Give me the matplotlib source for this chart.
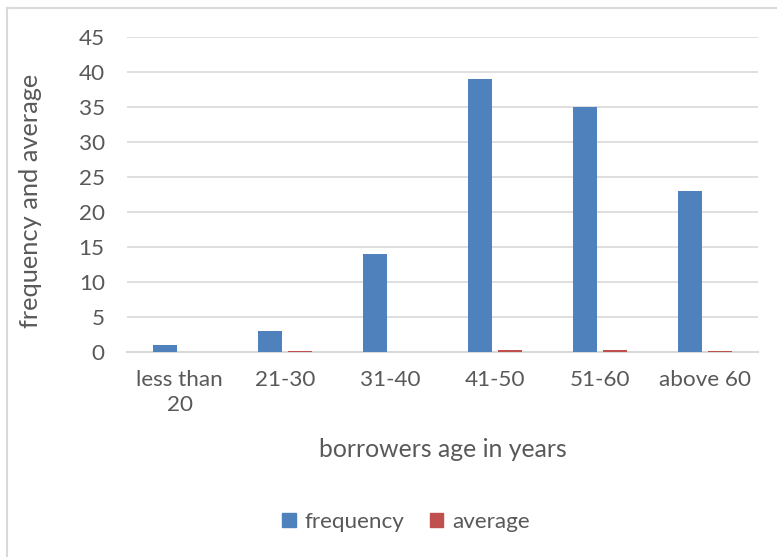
import matplotlib
matplotlib.use("Agg")
import matplotlib.pyplot as plt
import numpy as np
from matplotlib.patches import Rectangle
from matplotlib.lines import Line2D

categories = ["less than\n20", "21-30", "31-40", "41-50", "51-60", "above 60"]
frequency = [1, 3, 14, 39, 35, 23]
average = [0, 0.2, 0, 0.35, 0.3, 0.2]
y_ticks = [0, 5, 10, 15, 20, 25, 30, 35, 40, 45]

BLUE = "#4f81bd"
RED = "#c0504d"
GRID = "#d9d9d9"
TEXT = "#595959"

plt.rcParams["font.family"] = ["Lato", "DejaVu Sans"]

fig = plt.figure(figsize=(7.77, 5.57), dpi=100)
W, H = 777, 557
ax = fig.add_axes([127 / W, (H - 352) / H, (758 - 127) / W, (352 - 37) / H])

x = np.arange(len(categories))
bw = 0.228
off = 0.143
ax.bar(x - off, frequency, width=bw, color=BLUE, zorder=3)
ax.bar(x + off, average, width=bw, color=RED, zorder=3)

ax.set_xlim(-0.5, len(categories) - 0.5)
ax.set_ylim(0, 45)
ax.set_yticks(y_ticks)
ax.yaxis.grid(True, color=GRID, linewidth=1.2, zorder=0)
ax.set_axisbelow(True)
for s in ["top", "right", "left"]:
    ax.spines[s].set_visible(False)
ax.spines["bottom"].set_color(GRID)
ax.spines["bottom"].set_linewidth(1.5)
ax.spines["bottom"].set_zorder(2)

ax.set_xticks(x)
ax.set_xticklabels(categories, linespacing=1.3)
ax.tick_params(axis="both", length=0, colors=TEXT, labelsize=16.2)
ax.tick_params(axis="x", pad=13)
ax.tick_params(axis="y", pad=16)

ax.set_xlabel("borrowers age in years", color=TEXT, fontsize=17.8, labelpad=17)
ax.set_ylabel("frequency and average", color=TEXT, fontsize=18.3)
ax.yaxis.set_label_coords(-0.135, 0.48)

# outer chart frame (only the top and left edges fall inside the image)
fig.add_artist(Line2D([7 / W, 7 / W], [0, 1 - 8 / H], transform=fig.transFigure,
                      color=GRID, linewidth=1.5))
fig.add_artist(Line2D([7 / W, 1], [1 - 8 / H, 1 - 8 / H], transform=fig.transFigure,
                      color=GRID, linewidth=1.5))

handles = [Rectangle((0, 0), 1, 1, color=BLUE), Rectangle((0, 0), 1, 1, color=RED)]
fig.legend(handles, ["frequency", "average"], loc="center",
           bbox_to_anchor=(406 / W, 1 - 522 / H), ncol=2, frameon=False,
           fontsize=16.2, labelcolor=TEXT, handlelength=0.6, handleheight=0.6,
           handletextpad=0.4, columnspacing=1.1)

fig.savefig("out.png", dpi=100)
